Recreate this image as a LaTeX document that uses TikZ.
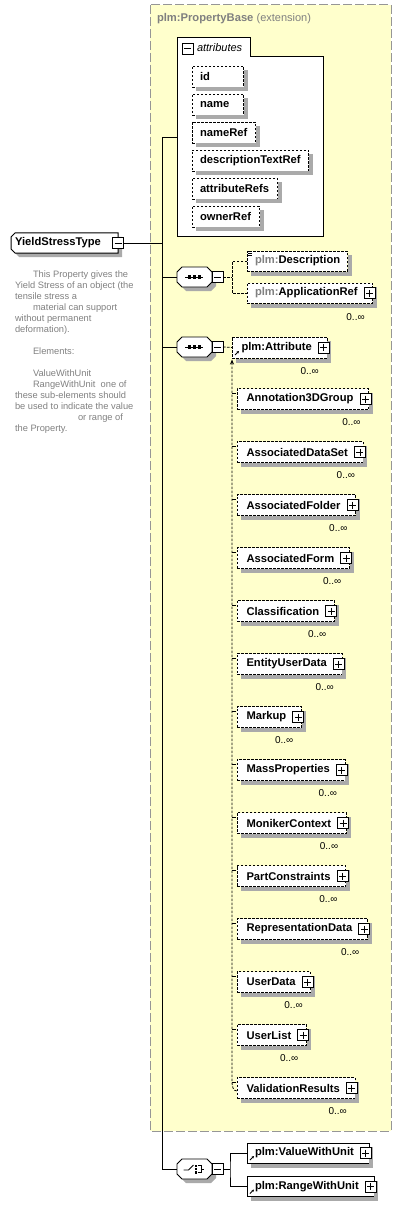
\documentclass[tikz,border=0pt]{standalone}
\usepackage{fontspec}
\setmainfont{Liberation Sans}
\usetikzlibrary{arrows.meta}
\definecolor{extfill}{RGB}{255,255,204}
\definecolor{extborder}{RGB}{150,150,150}
\definecolor{shgray}{RGB}{170,170,170}
\definecolor{annot}{RGB}{128,128,128}
\newcommand\fbold{\fontsize{11.2}{13}\selectfont\bfseries}
\newcommand\freg{\fontsize{11}{13}\selectfont}
\newcommand\shadowof[1]{%
  \path[fill=shgray] ([xshift=0.5pt,yshift=-4pt]#1.north east) rectangle ([xshift=4.5pt,yshift=-4.5pt]#1.south east);
  \path[fill=shgray] ([xshift=4pt,yshift=-0.5pt]#1.south west) rectangle ([xshift=4.5pt,yshift=-4.5pt]#1.south east);}
\tikzset{
  every node/.style={inner sep=0pt, outer sep=0pt},
  dsh/.style={dash pattern=on 2.5pt off 1.5pt},
  elembase/.style={draw, dsh, fill=white, minimum height=21pt, anchor=west, font=\fbold},
  elem/.style={elembase, execute at begin node={\hspace*{9.5pt}}, execute at end node={\hspace*{15pt}}},
  refelem/.style={draw, solid, fill=white, minimum height=20pt, anchor=west, font=\fbold,
    execute at begin node={\hspace*{8pt}}, execute at end node={\hspace*{15pt}}},
  attrent/.style={draw, dsh, fill=white, minimum height=21pt, inner xsep=8pt, anchor=west, font=\fbold},
  plusbox/.style={draw, solid, fill=white, minimum size=11pt, line width=0.8pt,
    path picture={\draw[line width=0.9pt] ([xshift=2pt]path picture bounding box.west) -- ([xshift=-2pt]path picture bounding box.east)
      ([yshift=-2pt]path picture bounding box.north) -- ([yshift=2pt]path picture bounding box.south);}},
  minusbox/.style={draw, solid, fill=white, minimum size=11pt, line width=0.8pt,
    path picture={\draw[line width=0.9pt] ([xshift=2pt]path picture bounding box.west) -- ([xshift=-2pt]path picture bounding box.east);}},
  mult/.style={anchor=east, font=\fontsize{10}{12}\selectfont},
  refarrow/.style={-{Stealth[length=2.5pt,width=2.5pt]}, line width=0.8pt, solid},
  octo/.style={draw, solid, fill=white, line width=0.8pt},
  seq/.pic={
    \path[fill=shgray] (-8.5,-6) -- (16.5,-6) -- (21.5,-1) -- (21.5,9) -- (16.5,14) -- (-8.5,14) -- (-13.5,9) -- (-13.5,-1) -- cycle;
    \draw[octo] (-12.5,-10) -- (12.5,-10) -- (17.5,-5) -- (17.5,5) -- (12.5,10) -- (-12.5,10) -- (-17.5,5) -- (-17.5,-5) -- cycle;
    \draw[line width=0.9pt] (-9.5,0) -- (8.5,0);
    \fill (-7,-1.8) rectangle (-3.4,1.8);
    \fill (-2,-1.8) rectangle (1.6,1.8);
    \fill (3,-1.8) rectangle (6.6,1.8);
    \coordinate (-w) at (-17.5,0);
  },
  cho/.pic={
    \path[fill=shgray] (-8.5,-6) -- (16.5,-6) -- (21.5,-1) -- (21.5,9) -- (16.5,14) -- (-8.5,14) -- (-13.5,9) -- (-13.5,-1) -- cycle;
    \draw[octo] (-12.5,-10) -- (12.5,-10) -- (17.5,-5) -- (17.5,5) -- (12.5,10) -- (-12.5,10) -- (-17.5,5) -- (-17.5,-5) -- cycle;
    \draw[line width=0.9pt] (-11,1) -- (-6,1) -- (-1,-4);
    \fill (0.3,-4.5) rectangle (2.5,-2.3);
    \fill (0.3,-1.1) rectangle (2.5,1.1);
    \fill (0.3,2.3) rectangle (2.5,4.5);
    \draw[line width=0.9pt] (3.5,-3.5) -- (6.5,-3.5) -- (6.5,3.5) -- (3.5,3.5) (6.5,0) -- (9.5,0);
    \coordinate (-w) at (-17.5,0);
  },
}
\begin{document}
\begin{tikzpicture}[x=1pt,y=-1pt]
\useasboundingbox (0,0) rectangle (402,1206);

% extension box
\draw[extborder, fill=extfill, line width=1pt, dash pattern=on 9pt off 3pt] (150,5) rectangle (391,1131);
\node[anchor=west, text=annot, font=\fbold] (ext) at (157,19) {plm:PropertyBase \mdseries\freg(extension)};

% attributes group
\draw[fill=white, line width=1pt] (177,237) -- (177,38) -- (250,38) -- (250,57) -- (323,57) -- (323,237) -- cycle;
\coordinate (attrbox) at (177,138);
\node[minusbox] (am) at (187.5,48.5) {};
\node[anchor=west, font=\freg\itshape] (attrtitle) at (197,48) {attributes};
\node[attrent] (a1) at (192,76.5) {\makebox[35pt][l]{id}};
\node[attrent] (a2) at (192,104.5) {\makebox[35pt][l]{name}};
\node[attrent] (a3) at (192,132.5) {nameRef};
\node[attrent] (a4) at (192,160.5) {descriptionTextRef};
\node[attrent] (a5) at (192,188.5) {attributeRefs};
\node[attrent] (a6) at (192,216.5) {ownerRef};
\foreach \a in {a1,a2,a3,a4,a5,a6} {\shadowof{\a}}

% root element
\path[fill=shgray] (19,237) -- (122,237) -- (122,257) -- (19,257) -- (15,253) -- (15,241) -- cycle;
\draw[fill=white, line width=1pt] (15,233) -- (118,233) -- (118,253) -- (15,253) -- (11,249) -- (11,237) -- cycle;
\node[anchor=west, font=\fbold] (yst) at (15,243) {YieldStressType};
\node[minusbox] (ysm) at (118,243) {};

% annotation
\node[anchor=north west, align=left, text=annot, font=\fontsize{9.3}{11}\selectfont] (doc) at (15,271.2) {%
\hspace*{18pt}This Property gives the\\
Yield Stress of an object (the\\
tensile stress a\\
\hspace*{18pt}material can support\\
without permanent\\
deformation).\\[11pt]
\hspace*{18pt}Elements:\\[11pt]
\hspace*{18pt}ValueWithUnit\\
\hspace*{18pt}RangeWithUnit\ \ one of\\
these sub-elements should\\
be used to indicate the value\\
\hspace*{63pt}or range of\\
the Property.};

% trunk
\coordinate (jA) at (162,138);
\coordinate (jY) at (162,243);
\coordinate (jS1) at (162,277);
\coordinate (jS2) at (162,347);
\coordinate (jC) at (162,1169);
\draw[line width=1pt] (ysm.east) -- (jY);
\draw[line width=1pt] (jA) -- (jC);
\draw[line width=1pt] (jA) -- (attrbox);

% sequence 1
\pic (sqA) at (194.5,277) {seq};
\node[minusbox] (mA) at (217.5,277) {};
\draw[line width=1pt] (jS1) -- (sqA-w);
\node[elembase, minimum height=20pt] (desc) at (247,261)
  {\hspace*{8pt}{\color{annot}plm:}Description\hspace*{7pt}};
\shadowof{desc}
\draw[line width=0.6pt] (248,251.5) -- (252,251.5) (248,253.5) -- (252,253.5) (248,255.5) -- (252,255.5);
\node[elembase, minimum height=20pt] (app) at (247,293) {\hspace*{8pt}{\color{annot}plm:}ApplicationRef\hspace*{15pt}};
\shadowof{app}
\node[plusbox] (appp) at ([xshift=-3pt]app.east) {};
\node[mult] (appm) at ([xshift=-8pt,yshift=-14pt]app.south east) {0..∞};
\coordinate (bA) at (232,277);
\draw[dsh, line width=0.8pt] (mA.east) -- (bA);
\draw[dsh, line width=0.8pt] (desc.west) -| (bA) |- (app.west);

% sequence 2
\pic (sqB) at (194.5,347) {seq};
\node[minusbox] (mB) at (217.5,347) {};
\draw[line width=1pt] (jS2) -- (sqB-w);
\node[elem] (attr) at (232,347.5) {plm:Attribute};
\shadowof{attr}
\node[plusbox] (attrp) at ([xshift=-3pt]attr.east) {};
\node[mult] (attrm) at ([xshift=-8pt,yshift=-13pt]attr.south east) {0..∞};
\draw[dsh, line width=0.8pt] (mB.east) -- (attr.west);
\draw[refarrow] ([xshift=3pt,yshift=3pt]attr.south west) -- +(4,-4);

% substitution group members
\foreach \nm [count=\k from 0] in {Annotation3DGroup,AssociatedDataSet,AssociatedFolder,AssociatedForm,Classification,EntityUserData,Markup,MassProperties,MonikerContext,PartConstraints,RepresentationData,UserData,UserList,ValidationResults} {
  \pgfmathsetmacro\yc{399+53*\k}
  \node[elem] (s\k) at (237,\yc) {\nm};
  \shadowof{s\k}
  \node[plusbox] (sp\k) at ([xshift=-3pt]s\k.east) {};
  \node[mult] (sm\k) at ([xshift=-8pt,yshift=-13pt]s\k.south east) {0..∞};
  \draw[line width=0.7pt] (232,\yc-6) -- (235.5,\yc-6);
}
\draw[dsh, line width=0.8pt, {Stealth[length=5pt,width=4pt]}-] ([yshift=-1.5pt]attr.south west) -- (232,1082) to[out=-90,in=180] ([yshift=-3pt]s13.west);

% choice
\pic (ch) at (194.5,1169) {cho};
\node[minusbox] (mC) at (217.5,1169) {};
\draw[line width=1pt] (jC) -- (ch-w);
\node[refelem] (vwu) at (247,1153) {plm:ValueWithUnit};
\shadowof{vwu}
\node[plusbox] (vwup) at ([xshift=-3pt]vwu.east) {};
\node[refelem] (rwu) at (247,1186.5) {plm:RangeWithUnit};
\shadowof{rwu}
\node[plusbox] (rwup) at ([xshift=-3pt]rwu.east) {};
\draw[refarrow] ([xshift=3pt,yshift=3pt]vwu.south west) -- +(4,-4);
\draw[refarrow] ([xshift=3pt,yshift=3pt]rwu.south west) -- +(4,-4);
\coordinate (bC) at (230,1169);
\draw[line width=1pt] (mC.east) -- (bC);
\draw[line width=1pt] (vwu.west) -| (bC) |- (rwu.west);
\end{tikzpicture}
\end{document}
